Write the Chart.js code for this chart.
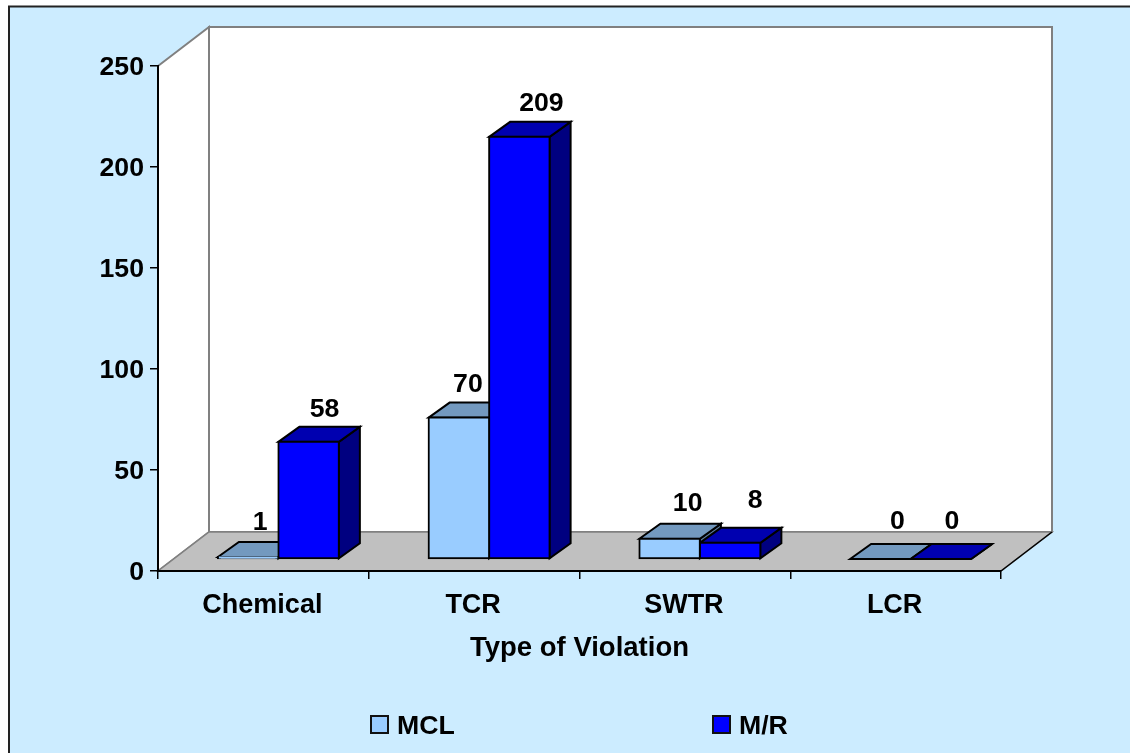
<!DOCTYPE html>
<html>
<head>
<meta charset="utf-8">
<title>Type of Violation</title>
<script src="https://cdn.jsdelivr.net/npm/chart.js@4/dist/chart.umd.js"></script>
<style>
  html, body { margin: 0; padding: 0; background: #fff; }
  canvas { display: block; }
</style>
</head>
<body>
<canvas id="grafica" width="1130" height="753"></canvas>
<script>
// =========================
// DATA
// =========================
const categorias = ["Chemical", "TCR", "SWTR", "LCR"];
const valoresMCL = [1, 70, 10, 0];
const valoresMR = [58, 209, 8, 0];
const ticksY = [0, 50, 100, 150, 200, 250];

// =========================
// 3D LOOK
// =========================
const FAMILY = "'Liberation Sans', Arial, sans-serif";
const FONT = { family: FAMILY, size: 26.67, weight: "bold" };
const FONT_CSS = "bold 26.67px " + FAMILY;
const WALL = { dx: 51, dy: -39 };   // depth of the floor and walls
const SHIFT = { dx: 15, dy: -12 };  // bars stand a bit behind the front edge
const BAR = { dx: 21, dy: -15 };    // depth of each bar

const caras = [
  { top: "#7399BF", side: "#5C7A99" },
  { top: "#0000B0", side: "#000080" }
];

// where each value label sits, relative to the front top center of its bar
const ajusteEtiquetas = [
  [[12, -34], [9, -33], [18, -35], [17, -37]],
  [[16, -32], [22, -33], [25, -42], [11, -37]]
];

function poligono(ctx, puntos, fill, stroke, ancho) {
  ctx.beginPath();
  puntos.forEach((p, i) => (i ? ctx.lineTo(p[0], p[1]) : ctx.moveTo(p[0], p[1])));
  ctx.closePath();
  if (fill) {
    ctx.fillStyle = fill;
    ctx.fill();
  }
  if (stroke) {
    ctx.strokeStyle = stroke;
    ctx.lineWidth = ancho;
    ctx.lineJoin = "miter";
    ctx.stroke();
  }
}

const fondo3D = {
  id: "fondo3D",
  beforeDraw(chart) {
    const { ctx, chartArea: a, width, height } = chart;
    const { dx, dy } = WALL;
    ctx.save();
    ctx.fillStyle = "#fff";
    ctx.fillRect(0, 0, width, height);
    ctx.fillStyle = "#CCECFF";
    ctx.fillRect(9, 6, width, height);
    ctx.strokeStyle = "#222";
    ctx.lineWidth = 2;
    ctx.strokeRect(9, 6.5, width + 10, height + 10);

    // back wall, side wall, floor
    poligono(ctx, [[a.left + dx, a.top + dy], [a.right + dx, a.top + dy], [a.right + dx, a.bottom + dy], [a.left + dx, a.bottom + dy]], "#fff", "#808080", 2);
    poligono(ctx, [[a.left, a.top], [a.left + dx, a.top + dy], [a.left + dx, a.bottom + dy], [a.left, a.bottom]], "#fff", "#808080", 2);
    poligono(ctx, [[a.left, a.bottom], [a.left + dx, a.bottom + dy], [a.right + dx, a.bottom + dy], [a.right, a.bottom]], "#C0C0C0", "#808080", 1.5);
    ctx.beginPath();
    ctx.moveTo(a.right, a.bottom);
    ctx.lineTo(a.right + dx, a.bottom + dy);
    ctx.strokeStyle = "#000";
    ctx.lineWidth = 1.5;
    ctx.stroke();
    ctx.restore();
  }
};

const barras3D = {
  id: "barras3D",
  // sides and tops go under all the fronts, MCL first so M/R covers it
  beforeDatasetsDraw(chart) {
    const { ctx } = chart;
    const { dx, dy } = BAR;
    ctx.save();
    ctx.translate(SHIFT.dx, SHIFT.dy);
    chart.data.datasets.forEach((ds, i) => {
      chart.getDatasetMeta(i).data.forEach((el) => {
        const l = el.x - el.width / 2;
        const r = el.x + el.width / 2;
        poligono(ctx, [[r, el.y], [r + dx, el.y + dy], [r + dx, el.base + dy], [r, el.base]], caras[i].side, "#000", 2);
        poligono(ctx, [[l, el.y], [l + dx, el.y + dy], [r + dx, el.y + dy], [r, el.y]], caras[i].top, "#000", 2);
      });
    });
    ctx.restore();
  },
  beforeDatasetDraw(chart) {
    chart.ctx.save();
    chart.ctx.translate(SHIFT.dx, SHIFT.dy);
  },
  afterDatasetDraw(chart) {
    chart.ctx.restore();
  },
  afterDatasetsDraw(chart) {
    const { ctx } = chart;
    ctx.save();
    ctx.font = FONT_CSS;
    ctx.fillStyle = "#000";
    ctx.textAlign = "center";
    ctx.textBaseline = "middle";
    chart.data.datasets.forEach((ds, i) => {
      chart.getDatasetMeta(i).data.forEach((el, j) => {
        const [ox, oy] = ajusteEtiquetas[i][j];
        ctx.fillText(ds.data[j], el.x + SHIFT.dx + ox, el.y + SHIFT.dy + oy);
      });
    });
    ctx.restore();
  },
  afterDraw(chart) {
    // legend: box and label for each series
    const { ctx } = chart;
    const xs = [371, 713];
    ctx.save();
    ctx.font = FONT_CSS;
    ctx.textBaseline = "middle";
    chart.data.datasets.forEach((ds, i) => {
      ctx.fillStyle = ds.backgroundColor;
      ctx.fillRect(xs[i], 716, 17, 17);
      ctx.strokeStyle = "#111";
      ctx.lineWidth = 2;
      ctx.strokeRect(xs[i], 716, 17, 17);
      ctx.fillStyle = "#000";
      ctx.fillText(ds.label, xs[i] + 26, 727);
    });
    ctx.restore();
  }
};

// =========================
// CHART
// =========================
new Chart(document.getElementById("grafica"), {
  type: "bar",
  data: {
    labels: categorias,
    datasets: [
      {
        label: "MCL",
        data: valoresMCL,
        backgroundColor: "#99CCFF",
        borderColor: "#000",
        borderWidth: 2,
        borderSkipped: false,
        inflateAmount: 1,
        clip: false
      },
      {
        label: "M/R",
        data: valoresMR,
        backgroundColor: "#0000FF",
        borderColor: "#000",
        borderWidth: 2,
        borderSkipped: false,
        inflateAmount: 1,
        clip: false
      }
    ]
  },
  options: {
    responsive: false,
    animation: false,
    devicePixelRatio: 1,
    categoryPercentage: 0.574,
    barPercentage: 1,
    layout: { padding: { left: 0, right: 129, top: 66, bottom: 86 }, autoPadding: false },
    plugins: {
      legend: { display: false },
      tooltip: { enabled: false },
      title: { display: false }
    },
    scales: {
      x: {
        afterFit: (s) => { s.height = 96; },
        grid: { drawOnChartArea: false, color: "#000", lineWidth: 1.5, tickLength: 8 },
        border: { color: "#000", width: 2 },
        ticks: { color: "#000", font: { ...FONT, size: 27 }, padding: 10, maxRotation: 0, labelOffset: -1 },
        title: {
          display: true,
          text: "Type of Violation",
          color: "#000",
          font: { ...FONT, size: 27.5 },
          padding: { top: 0, bottom: 2 }
        }
      },
      y: {
        min: ticksY[0],
        max: ticksY[ticksY.length - 1],
        afterFit: (s) => { s.width = 158; },
        afterBuildTicks: (s) => { s.ticks = ticksY.map((v) => ({ value: v })); },
        grid: { drawOnChartArea: false, color: "#000", lineWidth: 1.5, tickLength: 8 },
        border: { color: "#000", width: 2 },
        ticks: { color: "#000", font: FONT, padding: 6, labelOffset: 2 }
      }
    }
  },
  plugins: [fondo3D, barras3D]
});
</script>
</body>
</html>
